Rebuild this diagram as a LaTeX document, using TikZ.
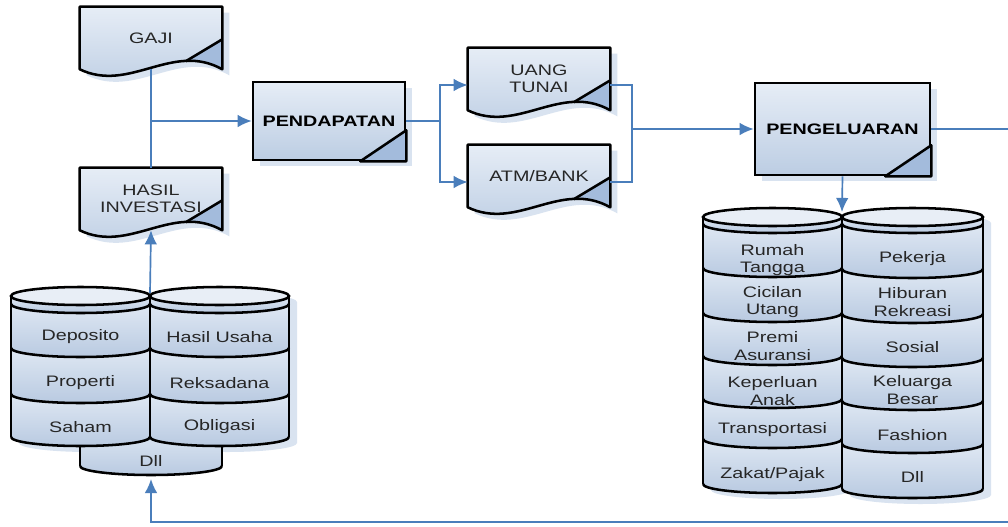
\documentclass[tikz,border=0pt]{standalone}
\usepackage{fontspec}
\setmainfont{Liberation Sans}[FakeStretch=1.3]
\usetikzlibrary{arrows.meta,calc,shadows,backgrounds}

\definecolor{linec}{HTML}{4A7EBB}
\definecolor{boxtop}{HTML}{E6EDF6}
\definecolor{boxbot}{HTML}{BCCDE3}
\definecolor{foldc}{HTML}{A3BBDC}
\definecolor{shadowc}{HTML}{D9E3F0}
\definecolor{cyltop}{HTML}{E8EEF6}
\definecolor{rowtop}{HTML}{DFE8F3}
\definecolor{rowbot}{HTML}{B9CAE1}
\definecolor{txtc}{HTML}{262626}

\newcommand{\labelfont}{\fontsize{10.8}{12.2}\selectfont}

% wavy document outline round a node
\newcommand{\docshape}[2]{\path[#2] (#1.north west) -- (#1.south west)
  .. controls ($(#1.south west)+(50,24)$) and ($(#1.south east)+(-50,-28)$) .. (#1.south east)
  -- (#1.north east) -- cycle;}

\newcommand{\docframe}[1]{%
  \begin{pgfonlayer}{background}
    \docshape{#1}{fill=shadowc, transform canvas={shift={(7,6)}}}
    \docshape{#1}{top color=boxtop, bottom color=boxbot}
    \begin{scope}
      \docshape{#1}{clip}
      \fill[foldc] ($(#1.south west)+(106,-8)$) -- ($(#1.south east)+(0,-30)$) -- ($(#1.south east)+(0,20)$) -- ($(#1.south west)+(106,20)$) -- cycle;
    \end{scope}
    \docshape{#1}{draw=black, line width=1.8pt, line join=round}
    \draw[line width=1.8pt] ($(#1.south west)+(106,-8)$) -- ($(#1.south east)+(0,-30)$);
  \end{pgfonlayer}}

% folded corner of a process box
\newcommand{\procfold}[1]{%
  \filldraw[fill=foldc, line width=1.8pt, line join=round] ($(#1.south east)+(-46,0)$) -- ($(#1.south east)+(0,-31)$) -- (#1.south east) -- cycle;}

% shadow and stacked cylinder: left x, right x, top y, ring/row lines, bottom y
\newcommand{\cylshadow}[4]{%
  \pgfmathsetmacro{\crx}{(#2-#1)/2}
  \fill[shadowc, shift={(8,6)}] (#1,#3) -- (#1,#4) arc[start angle=180, end angle=0, x radius=\crx, y radius=9]
    -- (#2,#3) arc[start angle=0, end angle=-180, x radius=\crx, y radius=9] -- cycle;}

\newcommand{\cylstack}[5]{%
  \pgfmathsetmacro{\crx}{(#2-#1)/2}
  \pgfmathsetmacro{\cxm}{(#1+#2)/2}
  \foreach \yb [remember=\yb as \ya (initially #3)] in {#4} {
    \path[top color=rowtop, bottom color=rowbot] (#1,\ya) arc[start angle=180, end angle=0, x radius=\crx, y radius=9]
      -- (#2,\yb) arc[start angle=0, end angle=180, x radius=\crx, y radius=9] -- cycle;
  }
  \foreach \yb in {#4}
    \draw[cylline] (#1,\yb) arc[start angle=180, end angle=0, x radius=\crx, y radius=9];
  \filldraw[cylline, fill=cyltop] (\cxm,#3) ellipse[x radius=\crx, y radius=9];
  \draw[cylline] (#1,#3) -- (#1,#5) (#2,#3) -- (#2,#5);}

\begin{document}
\begin{tikzpicture}[x=0.025cm, y=-0.025cm]
	\tikzstyle{Doc} = [rectangle, minimum width=3.55cm, minimum height=1.55cm, inner sep=0pt, align=center, font=\labelfont, text=txtc]
	\tikzstyle{Proc} = [rectangle, draw=black, line width=1.8pt, top color=boxtop, bottom color=boxbot, font=\labelfont\bfseries, text=black, drop shadow={shadow xshift=0.18cm, shadow yshift=-0.15cm, fill=shadowc, opacity=1}]
	\tikzstyle{Item} = [align=center, inner sep=0pt, font=\labelfont, text=txtc]
	\tikzstyle{cylline} = [draw=black, line width=1.8pt]
	\tikzstyle{conn} = [draw=linec, line width=1.2pt]
	\tikzstyle{arr} = [conn, -{Latex[length=10pt,width=9pt]}]

	\useasboundingbox (0,0) rectangle (1008,527);
	\begin{pgfonlayer}{background}
		\fill[white] (0,0) rectangle (1008,527);
	\end{pgfonlayer}

	% income side
	\node (gaji) [Doc] at (151,38) {GAJI};
	\docframe{gaji}
	\node (hasil) [Doc] at (151,199) {HASIL\\INVESTASI};
	\docframe{hasil}
	\node (pend) [Proc, minimum width=3.8cm, minimum height=1.95cm] at (329,121) {PENDAPATAN};
	\procfold{pend}
	\node (uang) [Doc] at (539,79) {UANG\\TUNAI};
	\docframe{uang}
	\node (atm) [Doc] at (539,176) {ATM/BANK};
	\docframe{atm}
	\node (peng) [Proc, minimum width=4.375cm, minimum height=2.3cm] at (842.5,129) {PENGELUARAN};
	\procfold{peng}

	% investment cylinders
	\cylshadow{11}{150}{296}{437}
	\cylshadow{150}{289}{296}{437}
	\cylstack{80}{222}{428}{466}{466}
	\cylstack{11}{150}{296}{304,348,394,437}{437}
	\cylstack{150}{289}{296}{304,348,394,437}{437}
	\node (depo) [Item] at (80.5,337) {Deposito};
	\node (prop) [Item] at (80.5,383) {Properti};
	\node (saham) [Item] at (80.5,427) {Saham};
	\node (usaha) [Item] at (219.5,337) {Hasil Usaha};
	\node (reksa) [Item] at (219.5,383) {Reksadana};
	\node (obli) [Item] at (219.5,427) {Obligasi};
	\node (dllinv) [Item] at (151,461) {Dll};

	% expense cylinders
	\cylshadow{703}{842}{217}{484}
	\cylshadow{842}{983}{217}{489}
	\cylstack{703}{842}{217}{224,268,313,356,399,439,484}{484}
	\cylstack{842}{983}{217}{224,269,314,358,401,444,489}{489}
	\node (rumah) [Item] at (772.5,260) {Rumah\\Tangga};
	\node (cicil) [Item] at (772.5,302) {Cicilan\\Utang};
	\node (premi) [Item] at (772.5,346) {Premi\\Asuransi};
	\node (anak) [Item] at (772.5,391) {Keperluan\\Anak};
	\node (trans) [Item] at (772.5,430) {Transportasi};
	\node (zakat) [Item] at (772.5,475) {Zakat/Pajak};
	\node (pekerja) [Item] at (912.5,259) {Pekerja};
	\node (hiburan) [Item] at (912.5,302) {Hiburan\\Rekreasi};
	\node (sosial) [Item] at (912.5,347) {Sosial};
	\node (keluarga) [Item] at (912.5,390) {Keluarga\\Besar};
	\node (fashion) [Item] at (912.5,435) {Fashion};
	\node (dllexp) [Item] at (912.5,477) {Dll};

	% connectors
	\coordinate (invtop) at (150,293);
	\coordinate (invbot) at (151,479);
	\coordinate (psplit) at (440,121);
	\coordinate (msplit) at (632,129);
	\coordinate (exptop) at (842,212);
	\coordinate (turn) at (1030,522);

	\draw[conn] (gaji.south) -- (hasil.north);
	\draw[arr] (gaji.south |- pend.west) -- (pend.west);
	\draw[arr] (invtop) -- (hasil.south);
	\draw[conn] (pend.east) -- (psplit);
	\draw[arr] (psplit) |- ([yshift=-0.15cm]uang.west);
	\draw[arr] (psplit) |- ([yshift=-0.15cm]atm.west);
	\draw[conn] ([yshift=-0.15cm]uang.east) -| (msplit);
	\draw[conn] ([yshift=-0.15cm]atm.east) -| (msplit);
	\draw[arr] (msplit) -- (peng.west);
	\draw[arr] (peng.south) -- (exptop);
	\draw[arr] (peng.east) -| (turn) -| (invbot);
\end{tikzpicture}
\end{document}
